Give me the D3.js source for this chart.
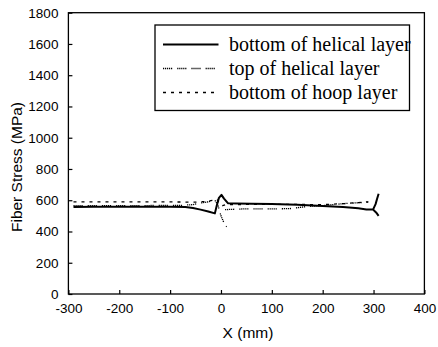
<!DOCTYPE html>
<html>
<head>
<meta charset="utf-8">
<script src="https://cdn.jsdelivr.net/npm/d3@7"></script>
<style>
  html, body { margin: 0; padding: 0; background: #fff; }
  svg { display: block; }
</style>
</head>
<body>
<svg id="chart" width="438" height="347"></svg>
<script>
// Axis ticks
const xTicks = [-300, -200, -100, 0, 100, 200, 300, 400];
const yTicks = [0, 200, 400, 600, 800, 1000, 1200, 1400, 1600, 1800];

// Series names (legend order)
const seriesNames = ["bottom of helical layer", "top of helical layer", "bottom of hoop layer"];

// bottom of helical layer (null marks a break in the curve)
const bottomHelicalX = [-290, -250, -200, -150, -100, -70, -55, -40, -25, -12, -8, -4, 1, 6, 14, 30, 60, 100, 150, 200, 240, 270, 286, 299, 304, 307, 310, null, 299, 305, 310];
const bottomHelicalY = [557, 558, 558, 558, 558, 556, 550, 540, 528, 516, 570, 615, 634, 610, 580, 579, 578, 576, 571, 563, 556, 548, 541, 540, 575, 610, 642, null, 540, 522, 500];

// top of helical layer
const topHelicalX = [-290, -150, -80, -55, -40, -25, -12, -6, 0, 6, 11, null, 8, 50, 100, 135, 170, 200, 240, 270, 290];
const topHelicalY = [565, 566, 567, 572, 582, 590, 600, 570, 500, 455, 430, null, 540, 545, 545, 546, 560, 566, 578, 584, 588];

// bottom of hoop layer
const hoopX = [-290, -200, -100, -50, -30, -15, -8, -3, 3, 10, 100, 200, 240, 270, 290];
const hoopY = [590, 590, 589, 588, 592, 600, 606, 580, 565, 572, 574, 572, 578, 585, 590];

const svg = d3.select("#chart");
const margin = { left: 68.4, top: 12.7, right: 438 - 424.4, bottom: 347 - 294 };
const W = 438 - margin.left - margin.right;
const H = 347 - margin.top - margin.bottom;

const x = d3.scaleLinear().domain([-300, 400]).range([margin.left, margin.left + W]);
const y = d3.scaleLinear().domain([0, 1800]).range([margin.top + H, margin.top]);

const sansFont = "'Liberation Sans', Arial, sans-serif";
const serifFont = "'Liberation Serif', 'Times New Roman', serif";
const plain = d => String(d);

// Axes with inward ticks
const xAxis = d3.axisBottom(x).tickValues(xTicks).tickFormat(plain).tickSizeInner(-4).tickSizeOuter(0);
const yAxis = d3.axisLeft(y).tickValues(yTicks).tickFormat(plain).tickSizeInner(-4).tickSizeOuter(0).tickPadding(10);

const gx = svg.append("g").attr("transform", `translate(0,${margin.top + H})`).call(xAxis);
const gy = svg.append("g").attr("transform", `translate(${margin.left},0)`).call(yAxis);
[gx, gy].forEach(g => {
  g.select(".domain").remove();
  g.selectAll(".tick line").attr("stroke", "#000").attr("stroke-width", 1.2);
  g.selectAll(".tick text").attr("fill", "#000").style("font-family", sansFont).style("font-size", "13.5px");
});
gx.selectAll(".tick text").attr("y", 9.5).attr("dy", "0.71em");

// Frame
svg.append("rect")
  .attr("x", margin.left).attr("y", margin.top)
  .attr("width", W).attr("height", H)
  .attr("fill", "none").attr("stroke", "#000").attr("stroke-width", 1.3);

// Axis titles
svg.append("text")
  .attr("x", 248).attr("y", 333).attr("dy", "0.35em")
  .attr("text-anchor", "middle")
  .style("font-family", sansFont).style("font-size", "15.5px")
  .text("X (mm)");
svg.append("text")
  .attr("transform", "translate(16.5,167) rotate(-90)")
  .attr("dy", "0.35em")
  .attr("text-anchor", "middle")
  .style("font-family", sansFont).style("font-size", "15.5px")
  .text("Fiber Stress (MPa)");

// Line styles
const styles = [
  { width: 2, dash: null, color: "#000" },
  { width: 1.3, dash: "1.2,0.8,1.2,0.8,1.2,0.8,1.2,0.8,1.2,5", color: "#000" },
  { width: 1.3, dash: "3,5", color: "#000" }
];

const toPoints = (xs, ys) => xs.map((v, i) => ({ x: v, y: ys[i] }));
const seriesData = [
  toPoints(bottomHelicalX, bottomHelicalY),
  toPoints(topHelicalX, topHelicalY),
  toPoints(hoopX, hoopY)
];

const line = d3.line()
  .defined(d => d.x !== null && d.y !== null)
  .x(d => x(d.x)).y(d => y(d.y));

// Draw from back to front so the solid curve sits on top
[2, 1, 0].forEach(i => {
  svg.append("path")
    .datum(seriesData[i])
    .attr("d", line)
    .attr("fill", "none")
    .attr("stroke", styles[i].color)
    .attr("stroke-width", styles[i].width)
    .attr("stroke-dasharray", styles[i].dash)
    .attr("stroke-linejoin", "round");
});

// Legend
const lg = svg.append("g");
lg.append("rect")
  .attr("x", 155).attr("y", 25).attr("width", 254.5).attr("height", 85.5)
  .attr("fill", "#fff").attr("stroke", "#000").attr("stroke-width", 1.3);
const rowY = [44.5, 68.5, 92.5];
seriesNames.forEach((name, i) => {
  lg.append("line")
    .attr("x1", 163).attr("x2", 218.5)
    .attr("y1", rowY[i]).attr("y2", rowY[i])
    .attr("stroke", styles[i].color)
    .attr("stroke-width", styles[i].width)
    .attr("stroke-dasharray", styles[i].dash);
  lg.append("text")
    .attr("x", 229).attr("y", rowY[i]).attr("dy", "0.3em")
    .style("font-family", serifFont).style("font-size", "20px")
    .attr("fill", "#000")
    .text(name);
});
</script>
</body>
</html>
